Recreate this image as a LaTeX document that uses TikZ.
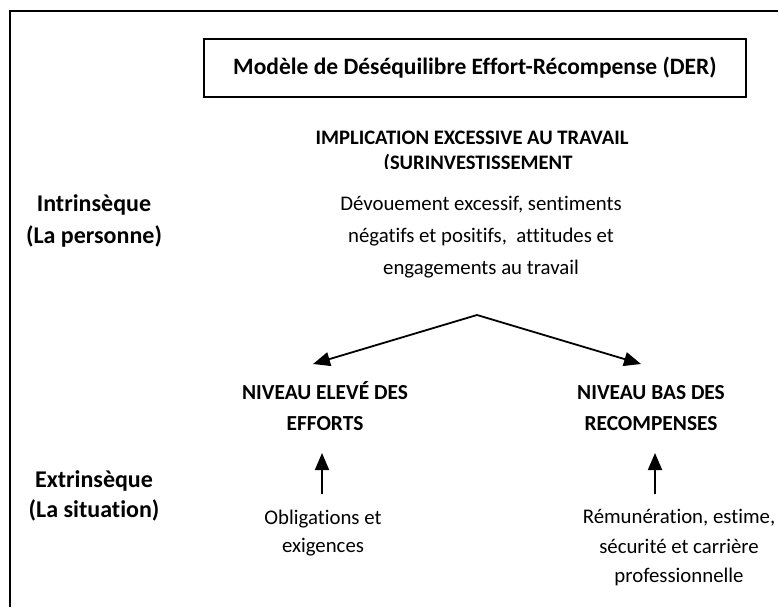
\documentclass[tikz,border=0pt]{standalone}
\usepackage{fontspec}
\setmainfont{Carlito}[Ligatures=CommonOff]
\usetikzlibrary{arrows.meta}
\begin{document}
\begin{tikzpicture}[x=1pt,y=-1pt,
  frame/.style={line width=1.4pt},
  titlebox/.style={draw,line width=1.4pt,minimum width=542pt,minimum height=58pt,inner sep=0pt,font=\bfseries\fontsize{23.5}{28}\selectfont},
  head/.style={font=\bfseries\fontsize{21.4}{31}\selectfont,align=center,inner sep=0pt},
  side/.style={font=\bfseries\fontsize{24}{32}\selectfont,align=center,inner sep=0pt},
  body/.style={font=\fontsize{20.8}{29.5}\selectfont,align=center,inner sep=0pt},
  arr/.style={line width=1.8pt,-{Triangle[length=17pt,width=14pt]}}]
\useasboundingbox (0,0) rectangle (778,607);
\fill[white] (0,0) rectangle (778,607);
\draw[frame] (10,607) -- (10,11) -- (778,11);
\node[titlebox] (title) at (475,68) {Modèle de Déséquilibre Effort-Récompense (DER)};
\node[head,font=\bfseries\fontsize{20.6}{25}\selectfont] (impl) at (472,138) {IMPLICATION EXCESSIVE AU TRAVAIL};
\begin{scope}
\clip (0,0) rectangle (778,168);
\node[head,font=\bfseries\fontsize{20.6}{25}\selectfont] (surinv) at (478,163) {(SURINVESTISSEMENT};
\end{scope}
\node[side] (intr) at (94,221) {Intrinsèque\\(La personne)};
\node[body,font=\fontsize{20.8}{32}\selectfont] (devo) at (481,237) {Dévouement excessif, sentiments\\négatifs et positifs,\ \ attitudes et\\engagements au travail};
\coordinate (apex) at (477,315);
\coordinate (ltip) at (313,364);
\coordinate (rtip) at (641,364);
\draw[arr] (apex) -- (ltip);
\draw[arr] (apex) -- (rtip);
\node[head] (effort) at (325,406) {NIVEAU ELEVÉ DES\\EFFORTS};
\node[head] (recomp) at (651,408) {NIVEAU BAS DES\\RECOMPENSES};
\coordinate (lbot) at (322,494);
\coordinate (ltop) at (322,453);
\coordinate (rbot) at (655,494);
\coordinate (rtop) at (655,453);
\draw[arr] (lbot) -- (ltop);
\draw[arr] (rbot) -- (rtop);
\node[side,font=\bfseries\fontsize{24}{30}\selectfont] (extr) at (94,496) {Extrinsèque\\(La situation)};
\node[body,font=\fontsize{20.8}{27.5}\selectfont] (oblig) at (323,533) {Obligations et\\exigences};
\node[body] (remun) at (679,548) {Rémunération, estime,\\sécurité et carrière\\professionnelle};
\end{tikzpicture}
\end{document}
